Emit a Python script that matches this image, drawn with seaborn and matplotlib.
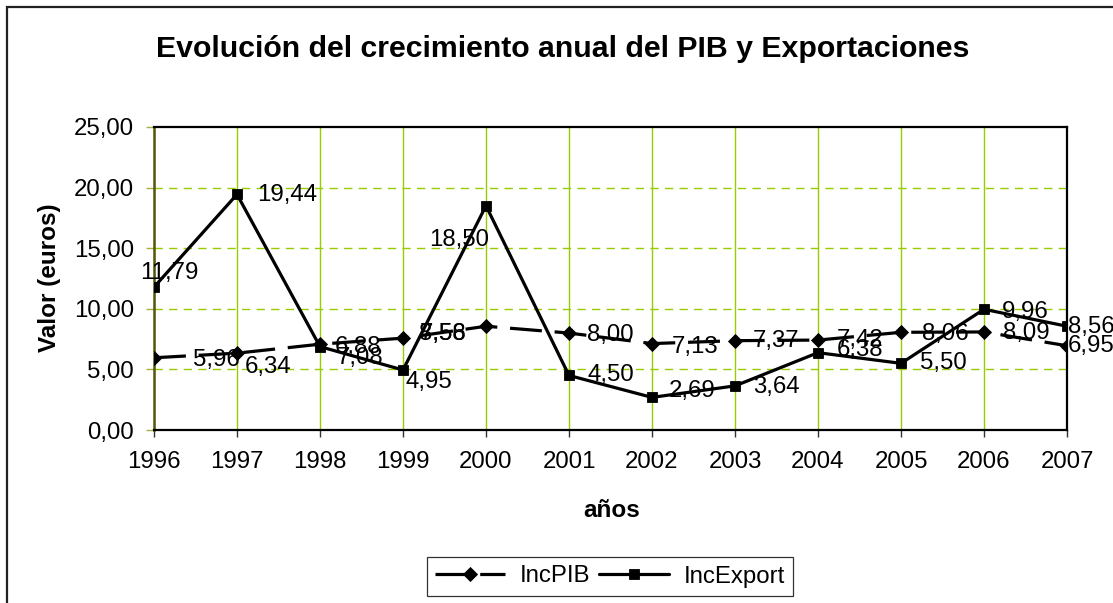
import matplotlib
matplotlib.use("Agg")
import matplotlib.pyplot as plt
from matplotlib.patches import Rectangle
from matplotlib.ticker import FuncFormatter, MultipleLocator
import seaborn as sns

# ---- data ----
years = [1996, 1997, 1998, 1999, 2000, 2001, 2002, 2003, 2004, 2005, 2006, 2007]
inc_pib = [5.96, 6.34, 7.08, 7.58, 8.56, 8.00, 7.13, 7.37, 7.42, 8.06, 8.09, 6.95]
inc_export = [11.79, 19.44, 6.88, 4.95, 18.50, 4.50, 2.69, 3.64, 6.38, 5.50, 9.96, 8.56]
series_names = ["IncPIB", "IncExport"]
title = "Evolución del crecimiento anual del PIB y Exportaciones"
xlabel = "años"
ylabel = "Valor (euros)"

# ---- label placement (pixel offsets: dx to text anchor, dy downward) ----
pib_label_off = [(39, 2), (8, 14), (17, 14), (17, -4), (-67, 8), (18, 2),
                 (20, 3), (18, 0), (19, 0), (21, 2), (19, 1), (1, 0)]
exp_label_off = [(-14, -14), (20, 1), (15, 0), (3, 12), (-57, 34), (18, 0),
                 (17, -6), (18, 1), (19, -3), (19, 0), (18, 3), (1, 1)]

sns.set_style("white")
plt.rcParams["font.family"] = ["Liberation Sans", "DejaVu Sans"]
plt.rcParams["text.color"] = "black"
plt.rcParams["axes.labelcolor"] = "black"
plt.rcParams["xtick.color"] = "black"
plt.rcParams["ytick.color"] = "black"

W, H = 1113, 603
fig = plt.figure(figsize=(W / 100, H / 100), dpi=100)
fig.patch.set_facecolor("white")
ax = fig.add_axes([154 / W, 1 - 430 / H, (1067 - 154) / W, (430 - 127) / H])

grid_col = "#99CC00"
FS = 17.3

sns.lineplot(x=years, y=inc_pib, ax=ax, color="black", linewidth=2.3,
             linestyle=(0, (10, 4)), marker="D", markersize=7.6,
             markeredgewidth=0.6, markeredgecolor="black",
             label=series_names[0], zorder=4)
sns.lineplot(x=years, y=inc_export, ax=ax, color="black", linewidth=2.3,
             marker="s", markersize=7.4, markeredgewidth=0.6,
             markeredgecolor="black", label=series_names[1], zorder=4)

ax.set_xlim(years[0], years[-1])
ax.set_ylim(0, 25)
ax.set_xticks(years)
ax.set_xticklabels([str(y) for y in years])
ax.yaxis.set_major_locator(MultipleLocator(5))
ax.yaxis.set_major_formatter(FuncFormatter(lambda v, p: f"{v:.2f}".replace(".", ",")))

# gridlines
for y in [5, 10, 15, 20]:
    ax.axhline(y, color=grid_col, linewidth=1.0, linestyle=(0, (6, 4.5)), zorder=1)
for x in years:
    ax.axvline(x, color=grid_col, linewidth=1.0, zorder=1)

for side in ["top", "right", "bottom"]:
    ax.spines[side].set_color("black")
    ax.spines[side].set_linewidth(1.6)
    ax.spines[side].set_zorder(3)
ax.spines["left"].set_color("#55550a")
ax.spines["left"].set_linewidth(1.8)
ax.spines["left"].set_zorder(3)

ax.tick_params(axis="y", direction="out", length=6, width=1.0, color="#a8b040",
               labelcolor="black", pad=8.5, labelsize=FS, left=True)
ax.tick_params(axis="x", direction="out", length=5, width=1.0, color="#333333",
               labelcolor="black", pad=10, labelsize=FS, bottom=True)
ax.set_xlabel("")
ax.set_ylabel("")

# data labels
def fmt(v):
    return f"{v:.2f}".replace(".", ",")

for x, v, (dx, dy) in zip(years, inc_pib, pib_label_off):
    ax.annotate(fmt(v), xy=(x, v), xytext=(dx, -dy), textcoords="offset pixels",
                ha="left", va="center", fontsize=FS, color="black", zorder=5,
                annotation_clip=False)
for x, v, (dx, dy) in zip(years, inc_export, exp_label_off):
    ax.annotate(fmt(v), xy=(x, v), xytext=(dx, -dy), textcoords="offset pixels",
                ha="left", va="center", fontsize=FS, color="black", zorder=5,
                annotation_clip=False)

# titles
fig.text(562.5 / W, 1 - 57 / H, title, ha="center", va="baseline",
         fontsize=21.8, fontweight="bold", color="black")
fig.text(50 / W, 1 - 278 / H, ylabel, ha="center", va="center", rotation=90,
         fontsize=17.5, fontweight="bold", color="black")
fig.text(612 / W, 1 - 517 / H, xlabel, ha="center", va="baseline",
         fontsize=17.5, fontweight="bold", color="black")

# legend
handles, labels = ax.get_legend_handles_labels()
if ax.get_legend() is not None:
    ax.get_legend().remove()
leg = fig.legend(handles, labels, loc="center", bbox_to_anchor=(610 / W, 1 - 576.5 / H),
                 ncol=2, frameon=True, fancybox=False, shadow=False,
                 edgecolor="black", fontsize=FS, handlelength=2.9,
                 handletextpad=0.6, columnspacing=0.4, borderpad=0.35)
leg.get_frame().set_linewidth(0.9)
for t in leg.get_texts():
    t.set_color("black")

# chart area border (extends beyond right/bottom of image)
fig.patches.append(Rectangle((7 / W, -0.2), 1.5, 1.2 - 7 / H,
                             transform=fig.transFigure, fill=False,
                             edgecolor="#222222", linewidth=1.6))

fig.savefig("out.png", dpi=100, facecolor="white")
